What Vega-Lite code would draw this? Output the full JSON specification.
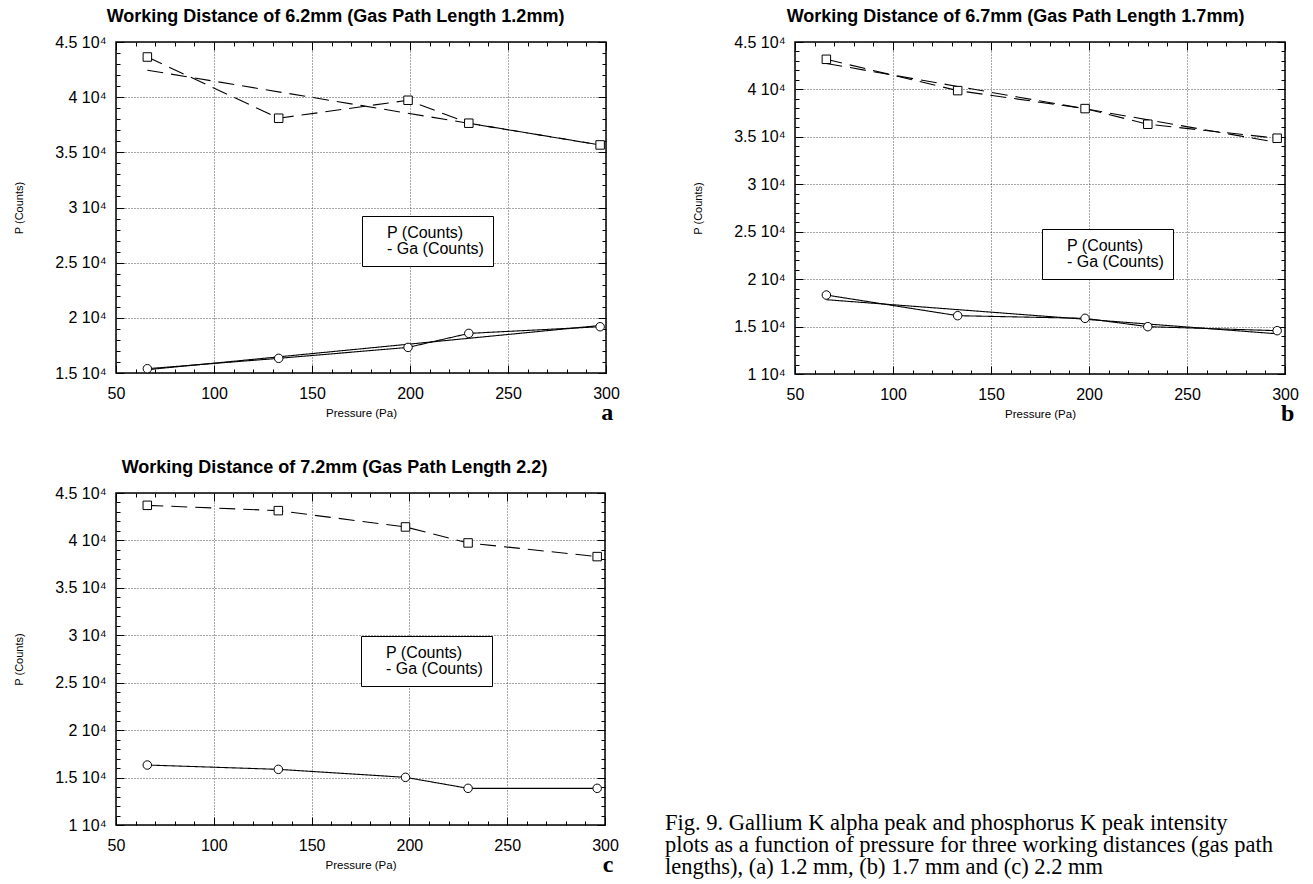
{
  "$schema": "https://vega.github.io/schema/vega-lite/v6.json",
  "padding": {"left": 12, "top": 6, "right": 0, "bottom": 0},
  "background": "white",
  "config": {
    "view": {"stroke": "black", "strokeWidth": 1.5},
    "font": "Liberation Sans",
    "axis": {"labelColor": "black", "titleColor": "black", "tickColor": "black", "domain": false, "labelFont": "Liberation Sans", "titleFont": "Liberation Sans"},
    "legend": {
      "symbolSize": 4, "symbolOpacity": 0, "labelOffset": 0, "padding": 9, "rowPadding": 0,
      "strokeColor": "black", "fillColor": "white", "labelFont": "Liberation Sans", "labelFontSize": 16, "labelColor": "black",
      "labelLimit": 400,
      "labelExpr": "datum.value === 'P (Counts)' ? '──○── P (Counts)' : '───⊟  - Ga (Counts)'"
    }
  },
  "datasets": {
    "pts": [
      {"panel": "a", "x": 66, "y": 43640, "series": "- Ga (Counts)"},
      {"panel": "a", "x": 133, "y": 38090, "series": "- Ga (Counts)"},
      {"panel": "a", "x": 199, "y": 39720, "series": "- Ga (Counts)"},
      {"panel": "a", "x": 230, "y": 37640, "series": "- Ga (Counts)"},
      {"panel": "a", "x": 297, "y": 35670, "series": "- Ga (Counts)"},
      {"panel": "a", "x": 66, "y": 15390, "series": "P (Counts)"},
      {"panel": "a", "x": 133, "y": 16330, "series": "P (Counts)"},
      {"panel": "a", "x": 199, "y": 17320, "series": "P (Counts)"},
      {"panel": "a", "x": 230, "y": 18590, "series": "P (Counts)"},
      {"panel": "a", "x": 297, "y": 19195, "series": "P (Counts)"},
      {"panel": "b", "x": 66, "y": 43175, "series": "- Ga (Counts)"},
      {"panel": "b", "x": 133, "y": 39875, "series": "- Ga (Counts)"},
      {"panel": "b", "x": 198, "y": 37980, "series": "- Ga (Counts)"},
      {"panel": "b", "x": 230, "y": 36330, "series": "- Ga (Counts)"},
      {"panel": "b", "x": 296, "y": 34856, "series": "- Ga (Counts)"},
      {"panel": "b", "x": 66, "y": 18324, "series": "P (Counts)"},
      {"panel": "b", "x": 133, "y": 16148, "series": "P (Counts)"},
      {"panel": "b", "x": 198, "y": 15867, "series": "P (Counts)"},
      {"panel": "b", "x": 230, "y": 14990, "series": "P (Counts)"},
      {"panel": "b", "x": 296, "y": 14568, "series": "P (Counts)"},
      {"panel": "c", "x": 66, "y": 43700, "series": "- Ga (Counts)"},
      {"panel": "c", "x": 133, "y": 43140, "series": "- Ga (Counts)"},
      {"panel": "c", "x": 198, "y": 41420, "series": "- Ga (Counts)"},
      {"panel": "c", "x": 230, "y": 39735, "series": "- Ga (Counts)"},
      {"panel": "c", "x": 296, "y": 38296, "series": "- Ga (Counts)"},
      {"panel": "c", "x": 66, "y": 16323, "series": "P (Counts)"},
      {"panel": "c", "x": 133, "y": 15867, "series": "P (Counts)"},
      {"panel": "c", "x": 198, "y": 15025, "series": "P (Counts)"},
      {"panel": "c", "x": 230, "y": 13866, "series": "P (Counts)"},
      {"panel": "c", "x": 296, "y": 13866, "series": "P (Counts)"}
    ]
  },
  "data": {"name": "pts"},
  "spacing": 30,
  "resolve": {"scale": {"shape": "independent", "strokeDash": "independent"}, "legend": {"shape": "independent", "strokeDash": "independent"}},
  "vconcat": [
    {
      "spacing": 70,
      "resolve": {"scale": {"shape": "independent", "strokeDash": "independent"}, "legend": {"shape": "independent", "strokeDash": "independent"}},
      "hconcat": [
        {
          "width": 490, "height": 331,
          "transform": [{"filter": "datum.panel === 'a'"}],
          "title": {"text": "a", "orient": "bottom", "anchor": "end", "font": "Liberation Serif", "fontSize": 24, "fontWeight": "bold", "color": "black", "offset": -18, "dx": -6},
          "layer": [
            {
              "mark": {"type": "line", "color": "black", "strokeWidth": 1.1},
              "encoding": {
                "x": {"field": "x", "type": "quantitative", "scale": {"domain": [50, 300], "nice": false, "zero": false},
                  "axis": {"orient": "bottom", "values": [50,60,70,80,90,100,110,120,130,140,150,160,170,180,190,200,210,220,230,240,250,260,270,280,290,300],
                    "labelExpr": "datum.value % 50 === 0 ? datum.label : ''", "labelFontSize": 16, "labelFlush": false, "labelOverlap": false, "labelBound": false, "labelPadding": 20,
                    "tickSize": {"condition": {"test": "datum.value % 50 === 0", "value": -8}, "value": -4}, "tickWidth": 1,
                    "grid": true, "gridColor": "#222", "gridDash": [1, 2], "gridWidth": 0.8,
                    "gridOpacity": {"condition": {"test": "datum.value % 50 === 0", "value": 1}, "value": 0},
                    "title": "Pressure (Pa)", "titleFontSize": 11.5, "titleFontWeight": "normal", "titlePadding": 2}},
                "y": {"field": "y", "type": "quantitative", "scale": {"domain": [15000, 45000], "nice": false, "zero": false},
                  "axis": {"orient": "left", "values": [15000,16000,17000,18000,19000,20000,21000,22000,23000,24000,25000,26000,27000,28000,29000,30000,31000,32000,33000,34000,35000,36000,37000,38000,39000,40000,41000,42000,43000,44000,45000],
                    "labelExpr": "datum.value % 5000 === 0 ? (datum.value / 10000) + ' 10⁴' : ''", "labelFontSize": 16, "labelOverlap": false, "labelFlush": false, "labelBound": false, "labelPadding": 18,
                    "tickSize": {"condition": {"test": "datum.value % 5000 === 0", "value": -8}, "value": -4}, "tickWidth": 1,
                    "grid": true, "gridColor": "#222", "gridDash": [1, 2], "gridWidth": 0.8,
                    "gridOpacity": {"condition": {"test": "datum.value % 5000 === 0", "value": 1}, "value": 0},
                    "title": "P (Counts)", "titleFontSize": 11, "titleFontWeight": "normal", "titlePadding": 30}},
                "strokeDash": {"field": "series", "type": "nominal", "scale": {"range": [[16, 8], [1, 0]]}, "legend": null}
              }
            },
            {
              "transform": [{"regression": "y", "on": "x", "groupby": ["series"]}],
              "mark": {"type": "line", "color": "black", "strokeWidth": 1.1},
              "encoding": {
                "x": {"field": "x", "type": "quantitative", "axis": null},
                "y": {"field": "y", "type": "quantitative", "axis": null},
                "strokeDash": {"field": "series", "type": "nominal", "legend": null}
              }
            },
            {
              "mark": {"type": "point", "filled": false, "fill": "white", "fillOpacity": 1, "stroke": "black", "strokeWidth": 1, "size": 72, "opacity": 1},
              "encoding": {
                "x": {"field": "x", "type": "quantitative",
                  "axis": {"orient": "top", "values": [50,60,70,80,90,100,110,120,130,140,150,160,170,180,190,200,210,220,230,240,250,260,270,280,290,300],
                    "labels": false, "grid": false,
                    "tickSize": {"condition": {"test": "datum.value % 50 === 0", "value": -8}, "value": -4}, "tickWidth": 1,
                    "title": "Working Distance of 6.2mm (Gas Path Length 1.2mm)", "titleFontSize": 18, "titleFontWeight": "bold", "titlePadding": 16, "titleX": 219}},
                "y": {"field": "y", "type": "quantitative",
                  "axis": {"orient": "right", "values": [15000,16000,17000,18000,19000,20000,21000,22000,23000,24000,25000,26000,27000,28000,29000,30000,31000,32000,33000,34000,35000,36000,37000,38000,39000,40000,41000,42000,43000,44000,45000],
                    "labels": false, "grid": false, "title": null,
                    "tickSize": {"condition": {"test": "datum.value % 5000 === 0", "value": -8}, "value": -4}, "tickWidth": 1}},
                "shape": {"field": "series", "type": "nominal", "scale": {"domain": ["P (Counts)", "- Ga (Counts)"], "range": ["circle", "square"]},
                  "legend": {"orient": "none", "title": null, "legendX": 246, "legendY": 174}}
              }
            }
          ],
          "resolve": {"axis": {"x": "independent", "y": "independent"}}
        },
        {
          "width": 490, "height": 332,
          "transform": [{"filter": "datum.panel === 'b'"}],
          "title": {"text": "b", "orient": "bottom", "anchor": "end", "font": "Liberation Serif", "fontSize": 24, "fontWeight": "bold", "color": "black", "offset": -18, "dx": -4},
          "layer": [
            {
              "mark": {"type": "line", "color": "black", "strokeWidth": 1.1},
              "encoding": {
                "x": {"field": "x", "type": "quantitative", "scale": {"domain": [50, 300], "nice": false, "zero": false},
                  "axis": {"orient": "bottom", "values": [50,60,70,80,90,100,110,120,130,140,150,160,170,180,190,200,210,220,230,240,250,260,270,280,290,300],
                    "labelExpr": "datum.value % 50 === 0 ? datum.label : ''", "labelFontSize": 16, "labelFlush": false, "labelOverlap": false, "labelBound": false, "labelPadding": 20,
                    "tickSize": {"condition": {"test": "datum.value % 50 === 0", "value": -8}, "value": -4}, "tickWidth": 1,
                    "grid": true, "gridColor": "#222", "gridDash": [1, 2], "gridWidth": 0.8,
                    "gridOpacity": {"condition": {"test": "datum.value % 50 === 0", "value": 1}, "value": 0},
                    "title": "Pressure (Pa)", "titleFontSize": 11.5, "titleFontWeight": "normal", "titlePadding": 2}},
                "y": {"field": "y", "type": "quantitative", "scale": {"domain": [10000, 45000], "nice": false, "zero": false},
                  "axis": {"orient": "left", "values": [10000,11000,12000,13000,14000,15000,16000,17000,18000,19000,20000,21000,22000,23000,24000,25000,26000,27000,28000,29000,30000,31000,32000,33000,34000,35000,36000,37000,38000,39000,40000,41000,42000,43000,44000,45000],
                    "labelExpr": "datum.value % 5000 === 0 ? (datum.value / 10000) + ' 10⁴' : ''", "labelFontSize": 16, "labelOverlap": false, "labelFlush": false, "labelBound": false, "labelPadding": 18,
                    "tickSize": {"condition": {"test": "datum.value % 5000 === 0", "value": -8}, "value": -4}, "tickWidth": 1,
                    "grid": true, "gridColor": "#222", "gridDash": [1, 2], "gridWidth": 0.8,
                    "gridOpacity": {"condition": {"test": "datum.value % 5000 === 0", "value": 1}, "value": 0},
                    "title": "P (Counts)", "titleFontSize": 11, "titleFontWeight": "normal", "titlePadding": 30}},
                "strokeDash": {"field": "series", "type": "nominal", "scale": {"range": [[16, 8], [1, 0]]}, "legend": null}
              }
            },
            {
              "transform": [{"regression": "y", "on": "x", "groupby": ["series"]}],
              "mark": {"type": "line", "color": "black", "strokeWidth": 1.1},
              "encoding": {
                "x": {"field": "x", "type": "quantitative", "axis": null},
                "y": {"field": "y", "type": "quantitative", "axis": null},
                "strokeDash": {"field": "series", "type": "nominal", "legend": null}
              }
            },
            {
              "mark": {"type": "point", "filled": false, "fill": "white", "fillOpacity": 1, "stroke": "black", "strokeWidth": 1, "size": 72, "opacity": 1},
              "encoding": {
                "x": {"field": "x", "type": "quantitative",
                  "axis": {"orient": "top", "values": [50,60,70,80,90,100,110,120,130,140,150,160,170,180,190,200,210,220,230,240,250,260,270,280,290,300],
                    "labels": false, "grid": false,
                    "tickSize": {"condition": {"test": "datum.value % 50 === 0", "value": -8}, "value": -4}, "tickWidth": 1,
                    "title": "Working Distance of 6.7mm (Gas Path Length 1.7mm)", "titleFontSize": 18, "titleFontWeight": "bold", "titlePadding": 16, "titleX": 220}},
                "y": {"field": "y", "type": "quantitative",
                  "axis": {"orient": "right", "values": [10000,11000,12000,13000,14000,15000,16000,17000,18000,19000,20000,21000,22000,23000,24000,25000,26000,27000,28000,29000,30000,31000,32000,33000,34000,35000,36000,37000,38000,39000,40000,41000,42000,43000,44000,45000],
                    "labels": false, "grid": false, "title": null,
                    "tickSize": {"condition": {"test": "datum.value % 5000 === 0", "value": -8}, "value": -4}, "tickWidth": 1}},
                "shape": {"field": "series", "type": "nominal", "scale": {"domain": ["P (Counts)", "- Ga (Counts)"], "range": ["circle", "square"]},
                  "legend": {"orient": "none", "title": null, "legendX": 247, "legendY": 187}}
              }
            }
          ],
          "resolve": {"axis": {"x": "independent", "y": "independent"}}
        }
      ]
    },
    {
      "spacing": 45,
      "resolve": {"scale": {"shape": "independent", "strokeDash": "independent"}, "legend": {"shape": "independent", "strokeDash": "independent"}},
      "hconcat": [
        {
          "width": 489, "height": 332,
          "transform": [{"filter": "datum.panel === 'c'"}],
          "title": {"text": "c", "orient": "bottom", "anchor": "end", "font": "Liberation Serif", "fontSize": 24, "fontWeight": "bold", "color": "black", "offset": -18, "dx": -5},
          "layer": [
            {
              "mark": {"type": "line", "color": "black", "strokeWidth": 1.1},
              "encoding": {
                "x": {"field": "x", "type": "quantitative", "scale": {"domain": [50, 300], "nice": false, "zero": false},
                  "axis": {"orient": "bottom", "values": [50,60,70,80,90,100,110,120,130,140,150,160,170,180,190,200,210,220,230,240,250,260,270,280,290,300],
                    "labelExpr": "datum.value % 50 === 0 ? datum.label : ''", "labelFontSize": 16, "labelFlush": false, "labelOverlap": false, "labelBound": false, "labelPadding": 20,
                    "tickSize": {"condition": {"test": "datum.value % 50 === 0", "value": -8}, "value": -4}, "tickWidth": 1,
                    "grid": true, "gridColor": "#222", "gridDash": [1, 2], "gridWidth": 0.8,
                    "gridOpacity": {"condition": {"test": "datum.value % 50 === 0", "value": 1}, "value": 0},
                    "title": "Pressure (Pa)", "titleFontSize": 11.5, "titleFontWeight": "normal", "titlePadding": 2}},
                "y": {"field": "y", "type": "quantitative", "scale": {"domain": [10000, 45000], "nice": false, "zero": false},
                  "axis": {"orient": "left", "values": [10000,11000,12000,13000,14000,15000,16000,17000,18000,19000,20000,21000,22000,23000,24000,25000,26000,27000,28000,29000,30000,31000,32000,33000,34000,35000,36000,37000,38000,39000,40000,41000,42000,43000,44000,45000],
                    "labelExpr": "datum.value % 5000 === 0 ? (datum.value / 10000) + ' 10⁴' : ''", "labelFontSize": 16, "labelOverlap": false, "labelFlush": false, "labelBound": false, "labelPadding": 18,
                    "tickSize": {"condition": {"test": "datum.value % 5000 === 0", "value": -8}, "value": -4}, "tickWidth": 1,
                    "grid": true, "gridColor": "#222", "gridDash": [1, 2], "gridWidth": 0.8,
                    "gridOpacity": {"condition": {"test": "datum.value % 5000 === 0", "value": 1}, "value": 0},
                    "title": "P (Counts)", "titleFontSize": 11, "titleFontWeight": "normal", "titlePadding": 30}},
                "strokeDash": {"field": "series", "type": "nominal", "scale": {"range": [[16, 8], [1, 0]]}, "legend": null}
              }
            },
            {
              "mark": {"type": "point", "filled": false, "fill": "white", "fillOpacity": 1, "stroke": "black", "strokeWidth": 1, "size": 72, "opacity": 1},
              "encoding": {
                "x": {"field": "x", "type": "quantitative",
                  "axis": {"orient": "top", "values": [50,60,70,80,90,100,110,120,130,140,150,160,170,180,190,200,210,220,230,240,250,260,270,280,290,300],
                    "labels": false, "grid": false,
                    "tickSize": {"condition": {"test": "datum.value % 50 === 0", "value": -8}, "value": -4}, "tickWidth": 1,
                    "title": "Working Distance of 7.2mm (Gas Path Length 2.2)", "titleFontSize": 18, "titleFontWeight": "bold", "titlePadding": 16, "titleX": 218}},
                "y": {"field": "y", "type": "quantitative",
                  "axis": {"orient": "right", "values": [10000,11000,12000,13000,14000,15000,16000,17000,18000,19000,20000,21000,22000,23000,24000,25000,26000,27000,28000,29000,30000,31000,32000,33000,34000,35000,36000,37000,38000,39000,40000,41000,42000,43000,44000,45000],
                    "labels": false, "grid": false, "title": null,
                    "tickSize": {"condition": {"test": "datum.value % 5000 === 0", "value": -8}, "value": -4}, "tickWidth": 1}},
                "shape": {"field": "series", "type": "nominal", "scale": {"domain": ["P (Counts)", "- Ga (Counts)"], "range": ["circle", "square"]},
                  "legend": {"orient": "none", "title": null, "legendX": 245, "legendY": 143}}
              }
            }
          ],
          "resolve": {"axis": {"x": "independent", "y": "independent"}}
        },
        {
          "width": 630, "height": 310,
          "view": {"stroke": null},
          "data": {"values": [{"t": ""}]},
          "mark": {"type": "text"},
          "encoding": {"text": {"field": "t"}},
          "title": {
            "text": ["Fig. 9. Gallium K alpha peak and phosphorus K peak intensity", "plots as a function of pressure for three working distances (gas path", "lengths), (a) 1.2 mm, (b) 1.7 mm and (c) 2.2 mm"],
            "orient": "bottom", "anchor": "start", "font": "Liberation Serif", "fontSize": 22.5, "fontWeight": "normal", "color": "black", "lineHeight": 22, "offset": 9
          }
        }
      ]
    }
  ]
}
